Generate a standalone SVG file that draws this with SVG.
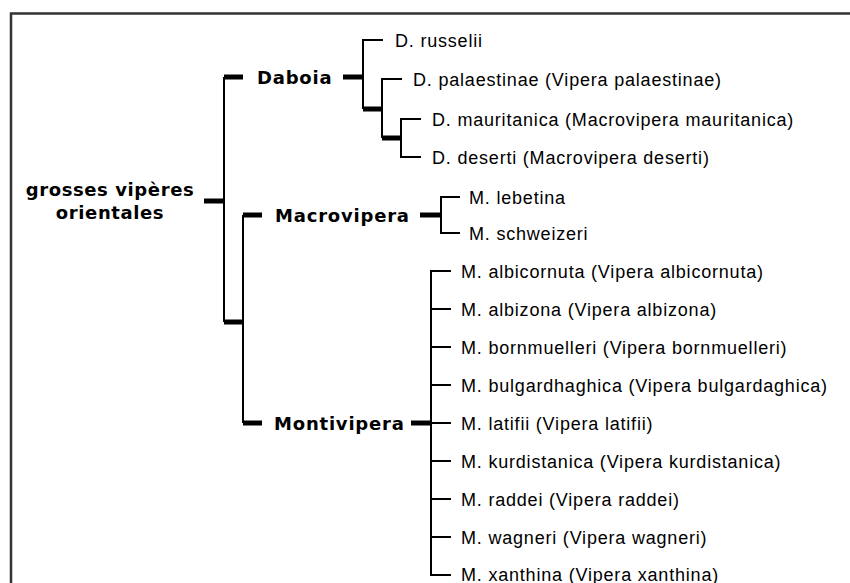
<svg xmlns="http://www.w3.org/2000/svg" width="850" height="583" viewBox="0 0 850 583">
<style>
.t{font-family:"Liberation Sans",Arial,sans-serif;font-size:18px;letter-spacing:0.8px;fill:#000}
.b{font-family:"DejaVu Sans",sans-serif;font-size:18px;font-weight:bold;letter-spacing:0.8px;fill:#000}
.th{stroke:#000;stroke-width:2;fill:none}
.tk{stroke:#000;stroke-width:5;fill:none}
</style>
<rect width="850" height="583" fill="#fff"/>
<path d="M11,583 V13.5 H850" stroke="#333" stroke-width="2.5" fill="none"/>
<g id="connectors">
<path class="th" d="M224,77 V322 M243,215 V423"/>
<path class="tk" d="M204,201 H224 M224,77 H243 M224,322 H243 M243,215 H262 M243,423 H262"/>
<path class="tk" d="M343,77 H363 M363,109 H382 M382,138 H401"/>
<path class="th" d="M383,40 H363 V109 M402,79 H382 V138 M421,119 H401 V157 H421"/>
<path class="tk" d="M420,215 H441"/>
<path class="th" d="M460,197 H441 V233 H460"/>
<path class="tk" d="M411,423 H431"/>
<path class="th" d="M451,271 H431 V575 H451 M431,309 H451 M431,347 H451 M431,385 H451 M431,423 H451 M431,461 H451 M431,499 H451 M431,537 H451"/>
</g>
<g id="root"><text class="b" x="110" y="196" text-anchor="middle" style="letter-spacing:0.6px">grosses vipères</text><text class="b" x="110" y="219" text-anchor="middle" style="letter-spacing:0.6px">orientales</text></g>
<g id="daboia"><text class="b" x="257" y="84">Daboia</text></g>
<g id="macrovipera"><text class="b" x="275" y="222">Macrovipera</text></g>
<g id="montivipera"><text class="b" x="274" y="430">Montivipera</text></g>
<g id="d-russelii"><text class="t" x="395" y="47">D. russelii</text></g>
<g id="d-palaestinae"><text class="t" x="413" y="86">D. palaestinae (Vipera palaestinae)</text></g>
<g id="d-mauritanica"><text class="t" x="432" y="126">D. mauritanica (Macrovipera mauritanica)</text></g>
<g id="d-deserti"><text class="t" x="432" y="164">D. deserti (Macrovipera deserti)</text></g>
<g id="m-lebetina"><text class="t" x="469" y="204">M. lebetina</text></g>
<g id="m-schweizeri"><text class="t" x="469" y="240">M. schweizeri</text></g>
<g id="m-albicornuta"><text class="t" x="461" y="278">M. albicornuta (Vipera albicornuta)</text></g>
<g id="m-albizona"><text class="t" x="461" y="316">M. albizona (Vipera albizona)</text></g>
<g id="m-bornmuelleri"><text class="t" x="461" y="354">M. bornmuelleri (Vipera bornmuelleri)</text></g>
<g id="m-bulgardhaghica"><text class="t" x="461" y="392">M. bulgardhaghica (Vipera bulgardaghica)</text></g>
<g id="m-latifii"><text class="t" x="461" y="430">M. latifii (Vipera latifii)</text></g>
<g id="m-kurdistanica"><text class="t" x="461" y="468">M. kurdistanica (Vipera kurdistanica)</text></g>
<g id="m-raddei"><text class="t" x="461" y="506">M. raddei (Vipera raddei)</text></g>
<g id="m-wagneri"><text class="t" x="461" y="544">M. wagneri (Vipera wagneri)</text></g>
<g id="m-xanthina"><text class="t" x="461" y="581">M. xanthina (Vipera xanthina)</text></g>
</svg>
